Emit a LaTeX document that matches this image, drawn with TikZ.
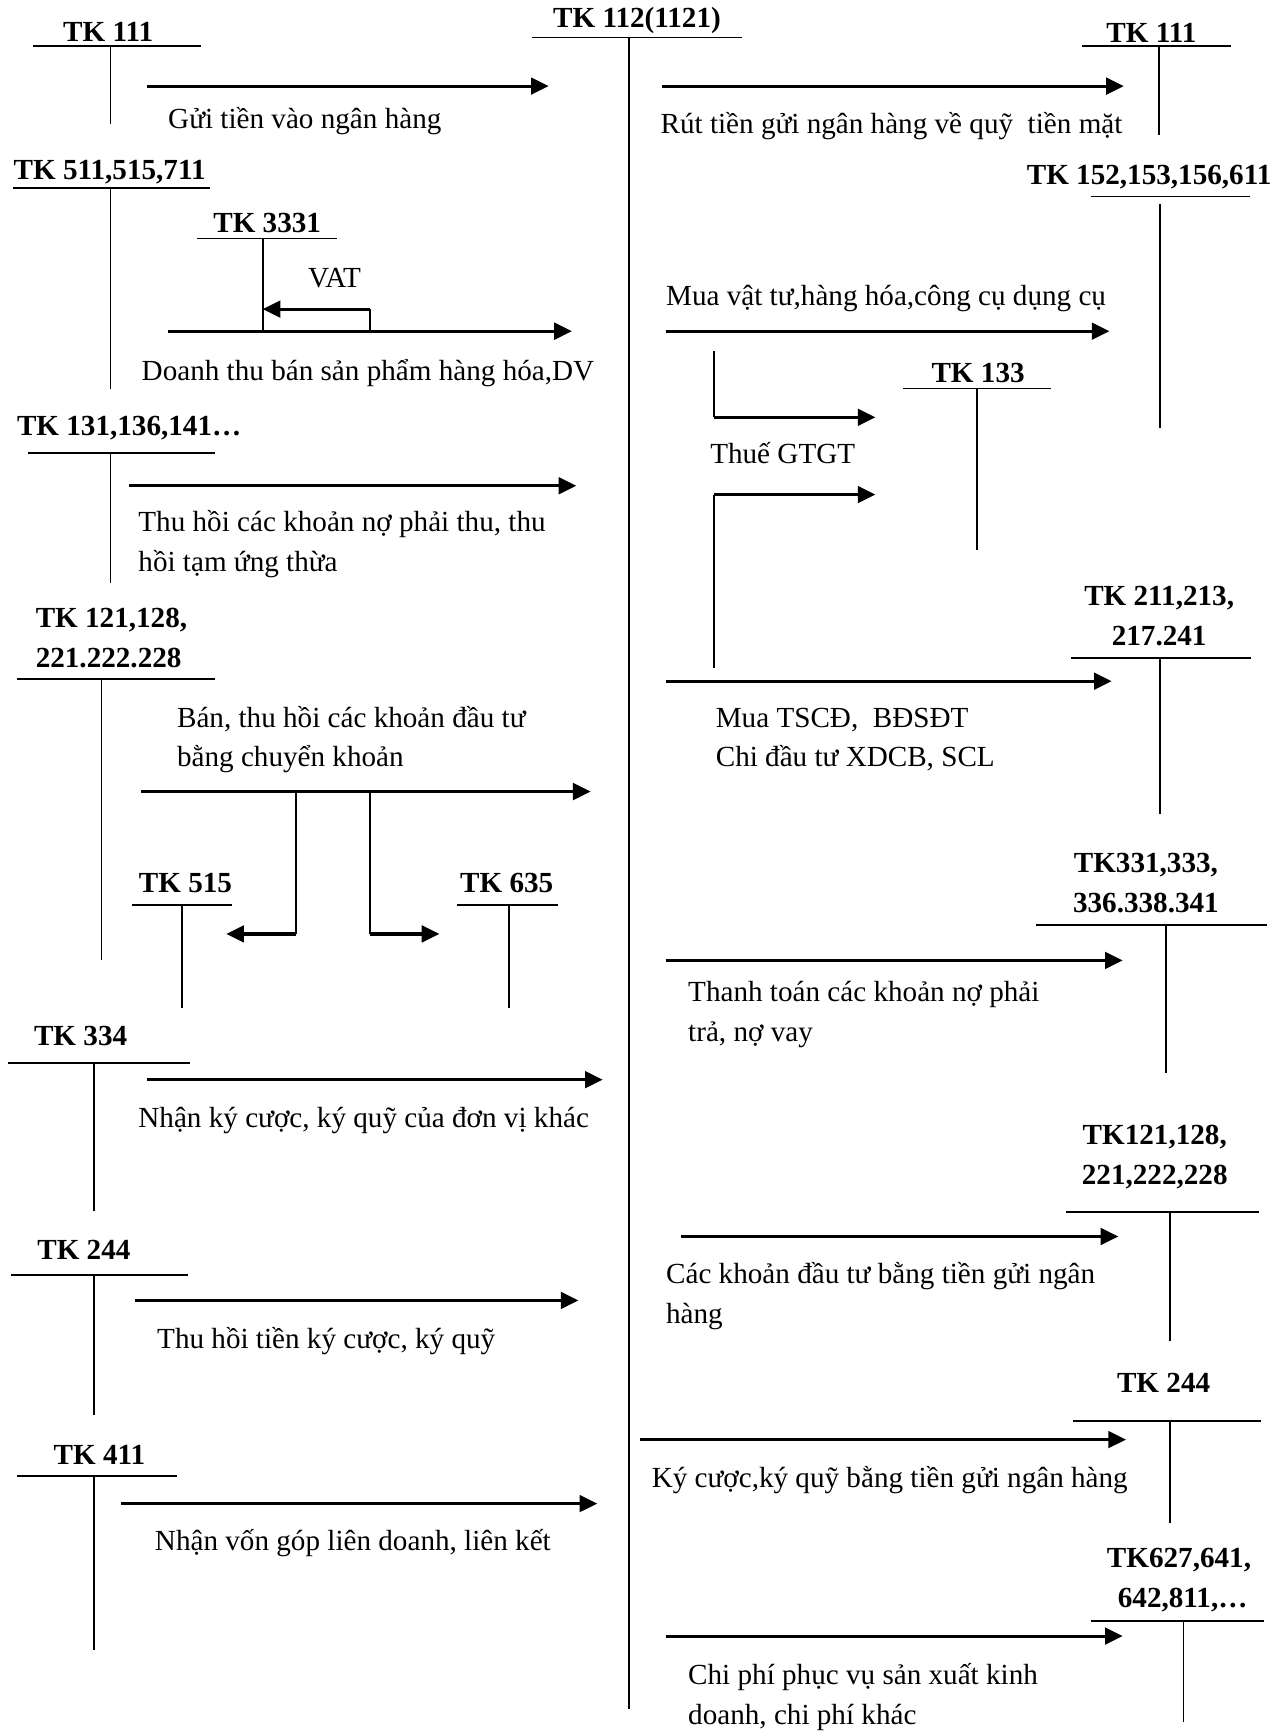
\documentclass[tikz,border=0pt]{standalone}
\usepackage{fontspec}
\setmainfont{Liberation Serif}
\usetikzlibrary{arrows.meta}

\begin{document}
\begin{tikzpicture}[x=0.5pt,y=-0.5pt,
    tline/.style={line width=0.8pt},
    flow/.style={line width=1.4pt,-{Triangle[length=8pt,width=7.5pt]}},
    acct/.style={font=\fontsize{13.2}{18}\selectfont\bfseries,inner sep=0pt,align=center},
    note/.style={font=\fontsize{13.2}{18}\selectfont,inner sep=0pt,anchor=west,align=left}]
    \useasboundingbox (0,0) rectangle (1161,1568);

    % main account
    \node[acct] (tk112) at (577,19) {TK 112(1121)};
    \draw[tline] (482,34) -- (672,34);
    \draw[tline] (570,34) -- (570,1548);

    % ---- debit side (left) ----
    \node[acct] (tkL111) at (98,29) {TK 111};
    \draw[tline] (30,42) -- (182,42);
    \draw[tline] (100,42) -- (100,112);
    \coordinate (a1s) at (133,78); \coordinate (a1e) at (497,78);
    \draw[flow] (a1s) -- (a1e);
    \node[note] (n1) at (152,110) {Gửi tiền vào ngân hàng};

    \node[acct,anchor=west] (tk511) at (12,156) {TK 511,515,711};
    \draw[tline] (12,170) -- (190,170);
    \draw[tline] (100,170) -- (100,352);
    \node[acct] (tk3331) at (242,202) {TK 3331};
    \draw[tline] (178,216) -- (305,216);
    \draw[tline] (238,216) -- (238,300);
    \coordinate (a2s) at (152,300); \coordinate (a2e) at (518,300);
    \coordinate (vat1) at (335,300); \coordinate (vat2) at (335,280); \coordinate (vat3) at (238,280);
    \draw[flow] (a2s) -- (a2e);
    \draw[tline] (vat1) -- (vat2);
    \draw[flow] (vat2) -- (vat3);
    \node[font=\fontsize{13.2}{18}\selectfont,inner sep=0pt] (vat) at (303,252) {VAT};
    \node[note] (n2) at (128,338) {Doanh thu bán sản phẩm hàng hóa,DV};

    \node[acct,anchor=west] (tk131) at (15,388) {TK 131,136,141…};
    \draw[tline] (25,410) -- (195,410);
    \draw[tline] (100,410) -- (100,528);
    \coordinate (a3s) at (117,440); \coordinate (a3e) at (522,440);
    \draw[flow] (a3s) -- (a3e);
    \node[note] (n3) at (125,493) {Thu hồi các khoản nợ phải thu, thu\\hồi tạm ứng thừa};

    \node[acct,anchor=west,align=left] (tk121L) at (32,578) {TK 121,128,\\221.222.228};
    \draw[tline] (15,615) -- (195,615);
    \draw[tline] (92,615) -- (92,870);
    \node[note] (n4) at (160,670) {Bán, thu hồi các khoản đầu tư\\bằng chuyển khoản};
    \coordinate (a4s) at (128,717); \coordinate (a4e) at (535,717);
    \draw[flow] (a4s) -- (a4e);
    \coordinate (b1) at (268,717); \coordinate (b2) at (268,846); \coordinate (b3) at (205,846);
    \coordinate (c1) at (335,717); \coordinate (c2) at (335,846); \coordinate (c3) at (398,846);
    \draw[tline] (b1) -- (b2);
    \draw[flow] (b2) -- (b3);
    \draw[tline] (c1) -- (c2);
    \draw[flow] (c2) -- (c3);
    \node[acct] (tk515) at (168,800) {TK 515};
    \draw[tline] (120,820) -- (210,820);
    \draw[tline] (165,820) -- (165,913);
    \node[acct] (tk635) at (459,800) {TK 635};
    \draw[tline] (414,820) -- (505,820);
    \draw[tline] (461,820) -- (461,913);

    \node[acct] (tk334) at (73,938) {TK 334};
    \draw[tline] (7,963) -- (172,963);
    \draw[tline] (85,963) -- (85,1097);
    \coordinate (a5s) at (133,978); \coordinate (a5e) at (546,978);
    \draw[flow] (a5s) -- (a5e);
    \node[note] (n5) at (125,1015) {Nhận ký cược, ký quỹ của đơn vị khác};

    \node[acct] (tk244L) at (76,1132) {TK 244};
    \draw[tline] (10,1155) -- (170,1155);
    \draw[tline] (85,1155) -- (85,1282);
    \coordinate (a6s) at (122,1178); \coordinate (a6e) at (524,1178);
    \draw[flow] (a6s) -- (a6e);
    \node[note] (n6) at (142,1215) {Thu hồi tiền ký cược, ký quỹ};

    \node[acct] (tk411) at (90,1318) {TK 411};
    \draw[tline] (15,1337) -- (160,1337);
    \draw[tline] (85,1337) -- (85,1495);
    \coordinate (a7s) at (110,1362); \coordinate (a7e) at (541,1362);
    \draw[flow] (a7s) -- (a7e);
    \node[note] (n7) at (140,1398) {Nhận vốn góp liên doanh, liên kết};

    % ---- credit side (right) ----
    \node[acct] (tkR111) at (1043,30) {TK 111};
    \draw[tline] (980,42) -- (1115,42);
    \draw[tline] (1050,42) -- (1050,122);
    \coordinate (r1s) at (600,78); \coordinate (r1e) at (1018,78);
    \draw[flow] (r1s) -- (r1e);
    \node[note] (m1) at (598,114) {Rút tiền gửi ngân hàng về quỹ \ tiền mặt};

    \node[acct,anchor=east] (tk152) at (1152,160) {TK 152,153,156,611};
    \draw[tline] (988,178) -- (1132,178);
    \draw[tline] (1051,185) -- (1051,388);
    \node[note] (m2) at (603,270) {Mua vật tư,hàng hóa,công cụ dụng cụ};
    \coordinate (r2s) at (603,300); \coordinate (r2e) at (1005,300);
    \draw[flow] (r2s) -- (r2e);

    \node[acct] (tk133) at (886,338) {TK 133};
    \draw[tline] (818,352) -- (952,352);
    \draw[tline] (885,352) -- (885,498);
    \coordinate (g1) at (647,318); \coordinate (g2) at (647,378); \coordinate (g3) at (793,378);
    \draw[tline] (g1) -- (g2);
    \draw[flow] (g2) -- (g3);
    \node[note] (m3) at (643,410) {Thuế GTGT};
    \coordinate (h1) at (647,605); \coordinate (h2) at (647,448); \coordinate (h3) at (793,448);
    \draw[tline] (h1) -- (h2);
    \draw[flow] (h2) -- (h3);

    \node[acct] (tk211) at (1050,558) {TK 211,213,\\217.241};
    \draw[tline] (970,596) -- (1133,596);
    \draw[tline] (1051,596) -- (1051,737);
    \coordinate (r3s) at (603,617); \coordinate (r3e) at (1007,617);
    \draw[flow] (r3s) -- (r3e);
    \node[note] (m4) at (648,670) {Mua TSCĐ, \ BĐSĐT\\Chi đầu tư XDCB, SCL};

    \node[acct] (tk331) at (1038,800) {TK331,333,\\336.338.341};
    \draw[tline] (938,838) -- (1148,838);
    \draw[tline] (1056,838) -- (1056,972);
    \coordinate (r4s) at (603,870); \coordinate (r4e) at (1017,870);
    \draw[flow] (r4s) -- (r4e);
    \node[note] (m5) at (623,919) {Thanh toán các khoản nợ phải\\trả, nợ vay};

    \node[acct] (tk121R) at (1046,1048) {TK121,128,\\221,222,228};
    \draw[tline] (966,1098) -- (1140,1098);
    \draw[tline] (1060,1098) -- (1060,1215);
    \coordinate (r5s) at (617,1120); \coordinate (r5e) at (1013,1120);
    \draw[flow] (r5s) -- (r5e);
    \node[note] (m6) at (603,1174) {Các khoản đầu tư bằng tiền gửi ngân\\hàng};

    \node[acct] (tk244R) at (1054,1253) {TK 244};
    \draw[tline] (972,1287) -- (1142,1287);
    \draw[tline] (1060,1287) -- (1060,1380);
    \coordinate (r6s) at (580,1304); \coordinate (r6e) at (1020,1304);
    \draw[flow] (r6s) -- (r6e);
    \node[note] (m7) at (590,1341) {Ký cược,ký quỹ bằng tiền gửi ngân hàng};

    \node[acct] (tk627) at (1068,1431) {TK627,641,\\ \ 642,811,…};
    \draw[tline] (988,1468) -- (1145,1468);
    \draw[tline] (1072,1468) -- (1072,1560);
    \coordinate (r7s) at (603,1482); \coordinate (r7e) at (1017,1482);
    \draw[flow] (r7s) -- (r7e);
    \node[note] (m8) at (623,1537) {Chi phí phục vụ sản xuất kinh\\doanh, chi phí khác};
\end{tikzpicture}
\end{document}
